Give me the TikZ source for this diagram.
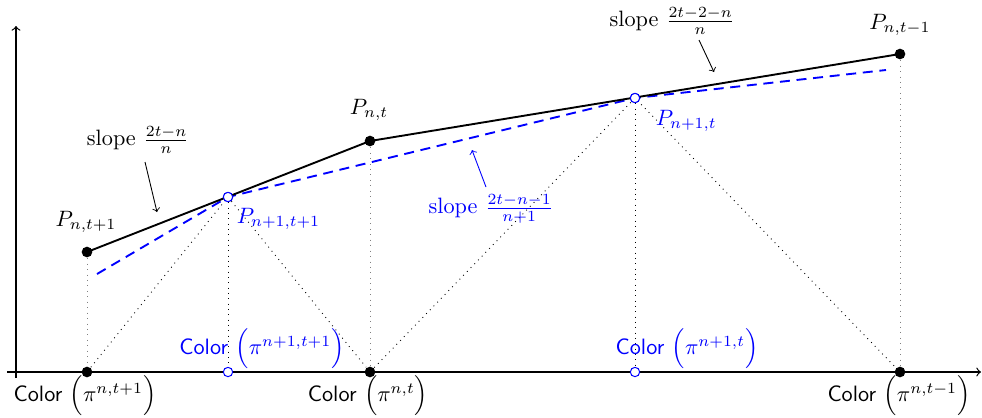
\documentclass[tikz,border=0pt]{standalone}
\usepackage{amsmath}
\tikzset{every picture/.style={line width=0.75pt}}
\tikzset{
  bdot/.style={circle,fill=black,inner sep=0pt,minimum size=4.8pt},
  odot/.style={circle,draw=blue,fill=white,line width=0.45pt,inner sep=0pt,minimum size=4.2pt},
  vgray/.style={dotted,gray,line width=0.45pt},
  vdot/.style={dotted,line width=0.4pt},
  blueline/.style={blue,line width=0.85pt,dash pattern=on 4.5pt off 3pt},
  pointer/.style={->,line width=0.4pt},
}

\begin{document}
\begin{tikzpicture}[x=0.45pt,y=0.45pt,yscale=-1,xscale=1]
\useasboundingbox (0,0) rectangle (982,417);

%Axes
\coordinate (xs) at (7,372);
\coordinate (xe) at (981,372);
\coordinate (ys) at (16,378);
\coordinate (ye) at (16,26);
\draw [->,line width=0.55pt] (xs) -- (xe);
\draw [->,line width=0.55pt] (ys) -- (ye);

%Points
\node [bdot] (Pt1) at (87,252) {};
\node [bdot] (Pt) at (370,141) {};
\node [bdot] (Pt0) at (900,54) {};
\node [bdot] (Ct1) at (87,372) {};
\node [bdot] (Ct) at (370,372) {};
\node [bdot] (Ct0) at (900,372) {};
\coordinate (Qs) at (97,274);
\coordinate (Qe) at (886,70);

%Dotted Lines
\draw [vgray] (Pt1) -- (Ct1);
\draw [vgray] (Pt) -- (Ct);
\draw [vgray] (Pt0) -- (Ct0);
\draw [vdot] (Ct1) -- (228,197) -- (Ct) -- (635,98) -- (Ct0);

%Blue Points
\node [odot] (Qt1) at (228,197) {};
\node [odot] (Qt) at (635,98) {};
\node [odot] (Dt1) at (228,372) {};
\node [odot] (Dt) at (635,372) {};
\draw [vdot] (Qt1) -- (Dt1);
\draw [vdot] (Qt) -- (Dt);

%Polylines
\draw [blueline] (Qs) -- (Qt1.center) -- (Qt.center) -- (Qe);
\draw [line width=0.85pt] (Pt1.center) -- (Pt.center) -- (Pt0.center);
\node [odot] at (Qt1) {};
\node [odot] at (Qt) {};

% Text Node
\node (lPt1) at (86,222) {$P_{n,t+1}$};
\node (lPt) at (369,110) {$P_{n,t}$};
\node (lPt0) at (900,25) {$P_{n,t-1}$};
\node [blue,anchor=west,inner sep=0pt] (lQt1) at (236,219) {$P_{n+1,t+1}$};
\node [blue,anchor=west,inner sep=0pt] (lQt) at (655,121) {$P_{n+1,t}$};

% Slope labels
\node (sA) at (138,140) {slope $\frac{2t-n}{n}$};
\node (sB) at (672,21) {slope $\frac{2t-2-n}{n}$};
\node [blue] (sC) at (491,209) {slope $\frac{2t-n-1}{n+1}$};
\coordinate (aA) at (145,162);
\coordinate (bA) at (157,212);
\coordinate (aB) at (699,40);
\coordinate (bB) at (714,72);
\coordinate (aC) at (486,187);
\coordinate (bC) at (472,150);
\draw [pointer] (aA) -- (bA);
\draw [pointer] (aB) -- (bB);
\draw [pointer,blue] (aC) -- (bC);

% Color labels
\node (cPt1) at (85,396) {\textsf{Color} $\Bigl(\pi^{n,t+1}\Bigr)$};
\node (cPt) at (368,396) {\textsf{Color} $\Bigl(\pi^{n,t}\Bigr)$};
\node (cPt0) at (899,396) {\textsf{Color} $\Bigl(\pi^{n,t-1}\Bigr)$};
\node [blue] (cQt1) at (262,349) {\textsf{Color} $\Bigl(\pi^{n+1,t+1}\Bigr)$};
\node [blue] (cQt) at (687,349) {\textsf{Color} $\Bigl(\pi^{n+1,t}\Bigr)$};

\end{tikzpicture}
\end{document}
